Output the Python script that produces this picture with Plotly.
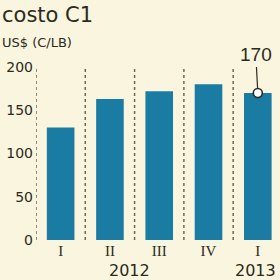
import plotly.graph_objects as go

categories = ["I", "II", "III", "IV", "I"]
years = ["2012", "2013"]
values = [130, 163, 172, 180, 170]
highlight_label = "170"
y_ticks = [0, 50, 100, 150, 200]

BG = "#f9f5df"
BAR = "#1b7ca3"
TXT = "#2b2a20"
DOT = "#6e6a50"

PLOT_W = 244
PLOT_H = 173

xs = list(range(len(categories)))
fig = go.Figure()
fig.add_trace(go.Bar(x=xs, y=values, marker=dict(color=BAR, line=dict(width=0)),
                     hoverinfo="skip"))
fig.add_trace(go.Scatter(x=[xs[-1]], y=[values[-1]], mode="markers",
                         marker=dict(size=9, color="white", line=dict(color=TXT, width=1.6)),
                         hoverinfo="skip", cliponaxis=False))

for i in xs:
    fig.add_shape(type="line", xref="x", yref="y", x0=i - 0.5, x1=i - 0.5, y0=0, y1=200,
                  line=dict(color=DOT, width=1.5, dash="dot"), layer="below")

fig.add_annotation(x=xs[-1], y=values[-1], xref="x", yref="y", text=highlight_label,
                   showarrow=True, arrowhead=0, arrowwidth=1.2, arrowcolor=TXT,
                   ax=-2, ay=-38, standoff=4,
                   font=dict(family="Liberation Sans", size=19, color=TXT))

fig.add_annotation(x=1.4, y=-30 / PLOT_H, xref="x", yref="paper", text=years[0], showarrow=False,
                   font=dict(family="DejaVu Sans", size=16, color=TXT), yanchor="middle")
fig.add_annotation(x=3.95, y=-30 / PLOT_H, xref="x", yref="paper", text=years[1], showarrow=False,
                   font=dict(family="DejaVu Sans", size=16, color=TXT), yanchor="middle")

fig.add_annotation(x=-36 / PLOT_W, y=1 + 66 / PLOT_H, xref="paper", yref="paper", text="costo C1",
                   showarrow=False, xanchor="left", yanchor="top",
                   font=dict(family="DejaVu Sans", size=21, color=TXT))
fig.add_annotation(x=-36 / PLOT_W, y=1 + 25 / PLOT_H, xref="paper", yref="paper", text="US$ (C/LB)",
                   showarrow=False, xanchor="left", yanchor="middle",
                   font=dict(family="DejaVu Sans", size=13, color=TXT))

fig.update_layout(
    width=280, height=280,
    margin=dict(l=36, r=0, t=67, b=40, autoexpand=False),
    paper_bgcolor=BG, plot_bgcolor=BG,
    showlegend=False, bargap=0.44,
    xaxis=dict(range=[-0.5, 4.45], tickvals=xs, ticktext=categories, automargin=False,
               showgrid=False, zeroline=False, showline=False, ticks="",
               tickfont=dict(family="Liberation Serif", size=15, color=TXT)),
    yaxis=dict(range=[0, 200], tickvals=y_ticks, showgrid=False, zeroline=False, automargin=False,
               showline=False, ticks="", ticklabelstandoff=2,
               tickfont=dict(family="DejaVu Sans", size=14, color=TXT)),
)

fig.write_html("out.html", config={"displayModeBar": False},
               post_script="document.body.style.margin='0';document.body.style.overflow='hidden';"
                           "document.body.style.background='" + BG + "';")
